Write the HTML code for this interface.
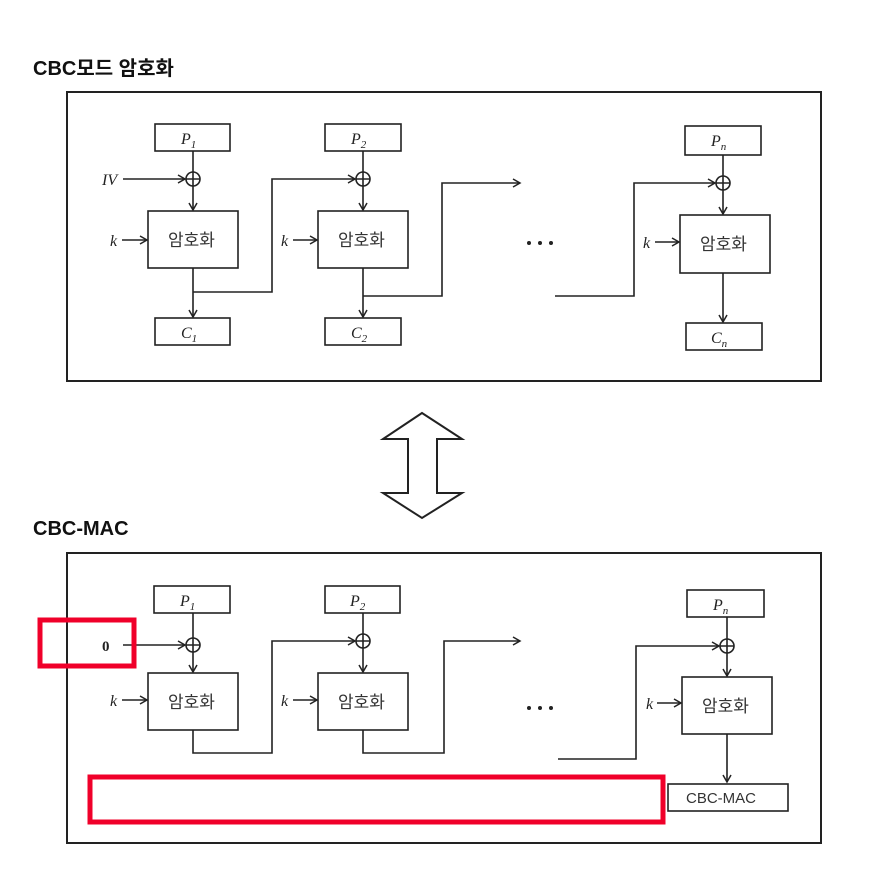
<!DOCTYPE html>
<html><head><meta charset="utf-8"><style>
body{margin:0;background:#fff;width:872px;height:868px;overflow:hidden}
svg text{font-family:"Liberation Serif","Noto Serif CJK SC",serif}
.k{font-family:"Liberation Sans","Noto Sans CJK KR",sans-serif;fill:#333;font-size:17px}
</style></head><body>
<svg width="872" height="868" viewBox="0 0 872 868" xmlns="http://www.w3.org/2000/svg">
<defs><marker id="a" markerWidth="10" markerHeight="10" refX="8" refY="5" orient="auto" markerUnits="userSpaceOnUse"><path d="M1,1 L8,5 L1,9" fill="none" stroke="#222" stroke-width="1.5"/></marker></defs>
<g font-family="Liberation Sans,Noto Sans CJK KR,sans-serif" font-weight="bold" font-size="20" fill="#111">
<text x="33" y="75" style="font-family:'Liberation Sans','Noto Sans CJK KR',sans-serif">CBC모드 암호화</text>
<text x="33" y="535" style="font-family:'Liberation Sans','Noto Sans CJK KR',sans-serif">CBC-MAC</text>
</g>
<g fill="none" stroke="#222" stroke-width="1.6">
<rect x="67" y="92" width="754" height="289" stroke-width="2"/>
<rect x="67" y="553" width="754" height="290" stroke-width="2"/>
<!-- top block 1 -->
<rect x="155" y="124" width="75" height="27"/><rect x="148" y="211" width="90" height="57"/><rect x="155" y="318" width="75" height="27"/>
<circle cx="193" cy="179" r="7"/><path d="M186,179H200M193,172V186"/>
<path d="M193,151V172"/><path d="M193,186V210" marker-end="url(#a)"/>
<path d="M123,179H185" marker-end="url(#a)"/><path d="M122,240H147" marker-end="url(#a)"/>
<path d="M193,268V317" marker-end="url(#a)"/>
<path d="M193,292H272V179H355" marker-end="url(#a)"/>
<!-- top block 2 -->
<rect x="325" y="124" width="76" height="27"/><rect x="318" y="211" width="90" height="57"/><rect x="325" y="318" width="76" height="27"/>
<circle cx="363" cy="179" r="7"/><path d="M356,179H370M363,172V186"/>
<path d="M363,151V172"/><path d="M363,186V210" marker-end="url(#a)"/>
<path d="M293,240H317" marker-end="url(#a)"/>
<path d="M363,268V317" marker-end="url(#a)"/>
<path d="M363,296H442V183H520" marker-end="url(#a)"/>
<!-- top block n -->
<rect x="685" y="126" width="76" height="29"/><rect x="680" y="215" width="90" height="58"/><rect x="686" y="323" width="76" height="27"/>
<circle cx="723" cy="183" r="7"/><path d="M716,183H730M723,176V190"/>
<path d="M723,155V176"/><path d="M723,190V214" marker-end="url(#a)"/>
<path d="M655,242H679" marker-end="url(#a)"/>
<path d="M723,273V322" marker-end="url(#a)"/>
<path d="M555,296H634V183H715" marker-end="url(#a)"/>
<!-- bottom block 1 -->
<rect x="154" y="586" width="76" height="27"/><rect x="148" y="673" width="90" height="57"/>
<circle cx="193" cy="645" r="7"/><path d="M186,645H200M193,638V652"/>
<path d="M193,613V638"/><path d="M193,652V672" marker-end="url(#a)"/>
<path d="M123,645H185" marker-end="url(#a)"/><path d="M122,700H147" marker-end="url(#a)"/>
<path d="M193,730V753H272V641H355" marker-end="url(#a)"/>
<!-- bottom block 2 -->
<rect x="325" y="586" width="75" height="27"/><rect x="318" y="673" width="90" height="57"/>
<circle cx="363" cy="641" r="7"/><path d="M356,641H370M363,634V648"/>
<path d="M363,613V634"/><path d="M363,648V672" marker-end="url(#a)"/>
<path d="M293,700H317" marker-end="url(#a)"/>
<path d="M363,730V753H444V641H520" marker-end="url(#a)"/>
<!-- bottom block n -->
<rect x="687" y="590" width="77" height="27"/><rect x="682" y="677" width="90" height="57"/><rect x="668" y="784" width="120" height="27"/>
<circle cx="727" cy="646" r="7"/><path d="M720,646H734M727,639V653"/>
<path d="M727,617V639"/><path d="M727,653V676" marker-end="url(#a)"/>
<path d="M657,703H681" marker-end="url(#a)"/>
<path d="M727,734V782" marker-end="url(#a)"/>
<path d="M558,759H636V646H719" marker-end="url(#a)"/>
<!-- double arrow -->
<path d="M422,413L462,439H437V493H462L422,518L383,493H408V439H383Z" stroke-width="2"/>
</g>
<g fill="#222" font-style="italic" font-size="16">
<text x="181" y="144">P<tspan font-size="11" dy="4">1</tspan></text>
<text x="351" y="144">P<tspan font-size="11" dy="4">2</tspan></text>
<text x="711" y="146">P<tspan font-size="11" dy="4">n</tspan></text>
<text x="181" y="338">C<tspan font-size="11" dy="4">1</tspan></text>
<text x="351" y="338">C<tspan font-size="11" dy="4">2</tspan></text>
<text x="711" y="343">C<tspan font-size="11" dy="4">n</tspan></text>
<text x="102" y="185">IV</text>
<text x="110" y="246">k</text><text x="281" y="246">k</text><text x="643" y="248">k</text>
<text x="180" y="606">P<tspan font-size="11" dy="4">1</tspan></text>
<text x="350" y="606">P<tspan font-size="11" dy="4">2</tspan></text>
<text x="713" y="610">P<tspan font-size="11" dy="4">n</tspan></text>
<text x="110" y="706">k</text><text x="281" y="706">k</text><text x="646" y="709">k</text>
</g>
<text x="102" y="651" font-weight="bold" font-size="15" fill="#222">0</text>
<g class="k">
<text class="k" x="168" y="246">암호화</text><text class="k" x="338" y="246">암호화</text><text class="k" x="700" y="250">암호화</text>
<text class="k" x="168" y="708">암호화</text><text class="k" x="338" y="708">암호화</text><text class="k" x="702" y="712">암호화</text>
<text class="k" x="686" y="803" style="font-size:15px">CBC-MAC</text>
</g>
<g fill="#222"><circle cx="529" cy="243" r="2"/><circle cx="540" cy="243" r="2"/><circle cx="551" cy="243" r="2"/>
<circle cx="529" cy="708" r="2"/><circle cx="540" cy="708" r="2"/><circle cx="551" cy="708" r="2"/></g>
<g fill="none" stroke="#f0002a" stroke-width="5">
<rect x="40" y="620" width="94" height="46"/>
<rect x="90" y="777" width="573" height="45"/>
</g>
</svg>
</body></html>
